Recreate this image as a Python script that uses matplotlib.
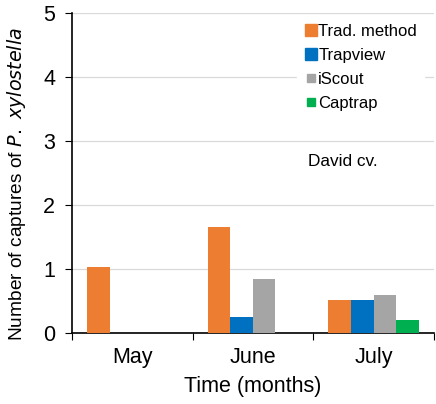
import numpy as np
import matplotlib.pyplot as plt
from matplotlib.lines import Line2D

months = ["May", "June", "July"]
methods = ["Trad. method", "Trapview", "iScout", "Captrap"]
trad = [1.03, 1.66, 0.52]
trapview = [0.0, 0.25, 0.52]
iscout = [0.0, 0.85, 0.59]
captrap = [0.0, 0.0, 0.20]
colors = ["#ed7d31", "#0070c0", "#a5a5a5", "#00b050"]

plt.rcParams["font.family"] = ["Liberation Sans", "DejaVu Sans"]

fig = plt.figure(figsize=(4.36, 4.04), dpi=100)
ax = fig.add_axes([0.165, 0.176, 0.830, 0.791])

x = np.arange(len(months))
width = 0.187
series = [trad, trapview, iscout, captrap]
for i, (vals, c) in enumerate(zip(series, colors)):
    ax.bar(x + (i - 1.5) * width, vals, width, color=c, zorder=3)

ax.set_xlim(-0.5, 2.5)
ax.set_ylim(0, 5)
ax.set_yticks(range(6))
ax.yaxis.grid(True, color="#d9d9d9", linewidth=0.9, zorder=0)

ax.set_xticks([-0.5, 0.5, 1.5, 2.5])
ax.set_xticklabels([])
ax.set_xticks(x, minor=True)
ax.set_xticklabels(months, minor=True)
ax.tick_params(axis="x", which="major", length=5, direction="out")
ax.tick_params(axis="x", which="minor", length=0, pad=10, labelsize=15.5)
ax.tick_params(axis="y", length=5, pad=7, labelsize=15.5)

for s in ["top", "right"]:
    ax.spines[s].set_visible(False)
ax.spines["left"].set_linewidth(1.2)
ax.spines["bottom"].set_linewidth(1.2)

ax.set_xlabel("Time (months)", fontsize=15.5, labelpad=6)
ax.set_ylabel("Number of captures of $\\it{P.\\ xylostella}$", fontsize=13.8)
ax.yaxis.set_label_coords(-0.122, 0.465)

sizes = [9, 9, 6, 6]
handles = [Line2D([], [], marker="s", linestyle="none", color=c, markersize=s)
           for c, s in zip(colors, sizes)]
leg = ax.legend(handles, methods, loc="upper left", bbox_to_anchor=(0.6, 1.015),
                frameon=True, fancybox=False, edgecolor="white", framealpha=1,
                fontsize=12, handlelength=0.8, handletextpad=0.05,
                labelspacing=0.55, borderpad=0.4)
leg.set_zorder(5)

ax.text(0.652, 0.5375, "David cv.", transform=ax.transAxes, fontsize=12.4,
        va="center", ha="left")

fig.savefig("out.png", dpi=100)
